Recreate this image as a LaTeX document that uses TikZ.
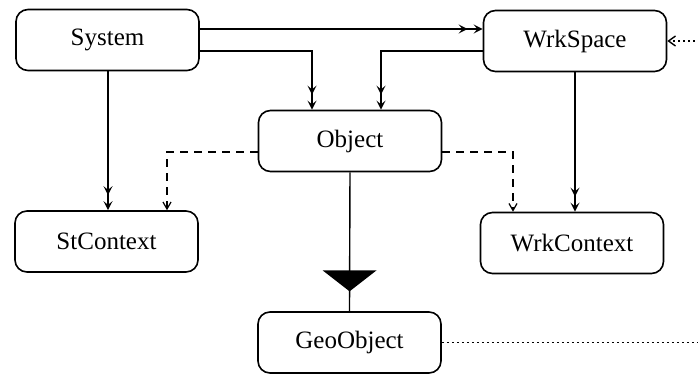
\documentclass[tikz,border=0pt]{standalone}
\usepackage{fontspec}
\setmainfont{Liberation Serif}
\usetikzlibrary{arrows.meta,calc,decorations.markings}
\begin{document}
\begin{tikzpicture}[x=0.5pt,y=-0.5pt,
  cls/.style={draw,line width=0.8pt,rounded corners=6pt,minimum width=91.5pt,minimum height=30.5pt,inner sep=0pt,font=\fontsize{12.5}{15}\selectfont},
  conn/.style={line width=0.7pt},
  dbl/.style={conn,-{Stealth[length=4.5pt,width=4.5pt,inset=1.8pt]},
    postaction={decorate,decoration={markings,mark=at position -7.5pt with {\arrow{Stealth[length=4.5pt,width=4.5pt,inset=1.8pt]}}}}},
  dep/.style={conn,dashed,dash pattern=on 4pt off 3pt,-{Straight Barb[length=3.5pt,width=4pt,line width=0.6pt]}},
  dotl/.style={conn,line width=0.6pt,dash pattern=on 1pt off 1.5pt,-{Straight Barb[length=3.5pt,width=5pt,line width=0.7pt]}}]
\useasboundingbox (0,0) rectangle (698,375);
\clip (0,0) rectangle (698,375);
\node[cls] (sys) at (107.5,40) {System};
\node[cls] (ws) at (575,41) {WrkSpace};
\node[cls] (obj) at (350,141) {Object};
\node[cls] (stc) at (106.5,241.5) {StContext};
\node[cls] (wc) at (572,243) {WrkContext};
\node[cls] (geo) at (349.5,342.5) {GeoObject};
\coordinate (far) at (730,342.5);
% associations
\draw[dbl] (sys.east |- 0,29) -- (ws.west |- 0,29);
\draw[dbl] (sys.east |- 0,51) -| (obj.north -| 312,0);
\draw[dbl] (ws.west |- 0,51) -| (obj.north -| 381,0);
\draw[dbl] (sys.south -| 108,0) -- (stc.north -| 108,0);
\draw[dbl] (ws.south -| 575,0) -- (wc.north -| 575,0);
% dependencies
\draw[dep] (obj.west |- 0,152) -| (stc.north -| 167,0);
\draw[dep] (obj.east |- 0,152) -| (wc.north -| 513,0);
% inheritance
\draw[conn] (obj.south) -- (geo.north);
\coordinate (tri) at ($(obj.south)!0.857!(geo.north)$);
\fill (tri) -- ++(-27,-21) -- ++(54,0) -- cycle;
% dotted link
\draw[dotl] (geo.east) -- (far) |- (ws.east);
\end{tikzpicture}
\end{document}
